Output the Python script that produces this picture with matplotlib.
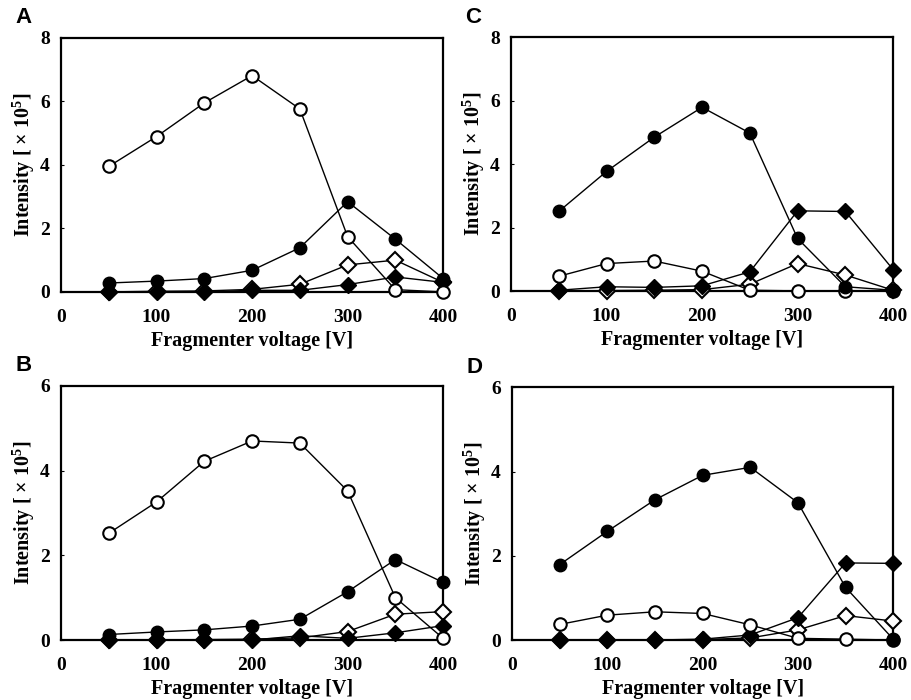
import matplotlib
matplotlib.use("Agg")
import matplotlib.pyplot as plt

plt.rcParams["font.family"] = ["Liberation Serif", "DejaVu Serif"]
plt.rcParams["font.weight"] = "bold"
plt.rcParams["mathtext.fontset"] = "custom"
plt.rcParams["mathtext.rm"] = "Liberation Serif:bold"
plt.rcParams["mathtext.bf"] = "Liberation Serif:bold"
plt.rcParams["mathtext.it"] = "Liberation Serif:bold"

voltage = [50, 100, 150, 200, 250, 300, 350, 400]

# Panel A
a_open_circle = [3.95, 4.89, 5.95, 6.81, 5.76, 1.74, 0.07, 0.0]
a_filled_circle = [0.28, 0.34, 0.42, 0.68, 1.39, 2.84, 1.66, 0.42]
a_open_diamond = [0.0, 0.02, 0.03, 0.08, 0.24, 0.85, 1.0, 0.30]
a_filled_diamond = [0.0, 0.0, 0.0, 0.05, 0.05, 0.23, 0.47, 0.30]

# Panel B
b_open_circle = [2.52, 3.26, 4.22, 4.70, 4.65, 3.52, 1.0, 0.04]
b_filled_circle = [0.13, 0.19, 0.24, 0.33, 0.49, 1.14, 1.90, 1.36]
b_open_diamond = [0.0, 0.0, 0.01, 0.02, 0.05, 0.20, 0.61, 0.67]
b_filled_diamond = [0.0, 0.0, 0.0, 0.0, 0.10, 0.04, 0.17, 0.34]

# Panel C
c_open_circle = [0.47, 0.87, 0.95, 0.63, 0.03, 0.01, 0.0, 0.0]
c_filled_circle = [2.51, 3.77, 4.85, 5.79, 4.98, 1.66, 0.14, 0.03]
c_open_diamond = [0.0, 0.02, 0.03, 0.05, 0.22, 0.87, 0.51, 0.03]
c_filled_diamond = [0.03, 0.14, 0.12, 0.17, 0.61, 2.53, 2.51, 0.68]

# Panel D
d_open_circle = [0.37, 0.59, 0.67, 0.63, 0.36, 0.04, 0.02, 0.0]
d_filled_circle = [1.79, 2.58, 3.33, 3.91, 4.10, 3.26, 1.25, 0.02]
d_open_diamond = [0.0, 0.0, 0.0, 0.01, 0.05, 0.24, 0.58, 0.45]
d_filled_diamond = [0.0, 0.0, 0.0, 0.02, 0.12, 0.53, 1.83, 1.82]

x_ticks = [0, 100, 200, 300, 400]

panels = [
    ("A", [0.0669, 0.583, 0.419, 0.363], 8, [0, 2, 4, 6, 8],
     a_open_circle, a_filled_circle, a_open_diamond, a_filled_diamond),
    ("C", [0.5603, 0.584, 0.419, 0.363], 8, [0, 2, 4, 6, 8],
     c_open_circle, c_filled_circle, c_open_diamond, c_filled_diamond),
    ("B", [0.0669, 0.0857, 0.419, 0.363], 6, [0, 2, 4, 6],
     b_open_circle, b_filled_circle, b_open_diamond, b_filled_diamond),
    ("D", [0.5614, 0.0857, 0.418, 0.361], 6, [0, 2, 4, 6],
     d_open_circle, d_filled_circle, d_open_diamond, d_filled_diamond),
]

fig = plt.figure(figsize=(9.12, 7.0), dpi=100)

line_kw = dict(color="black", lw=1.0, clip_on=False)
for letter, rect, ymax, yticks, oc, fc, od, fd in panels:
    ax = fig.add_axes(rect)
    ax.plot(voltage, od, marker="D", ms=8, mfc="white", mec="black", mew=1.5, zorder=3, **line_kw)
    ax.plot(voltage, fd, marker="D", ms=8, mfc="black", mec="black", zorder=4, **line_kw)
    ax.plot(voltage, oc, marker="o", ms=9, mfc="white", mec="black", mew=1.5, zorder=5, **line_kw)
    ax.plot(voltage, fc, marker="o", ms=9, mfc="black", mec="black", zorder=6, **line_kw)
    ax.set_xlim(0, 400)
    ax.set_ylim(0, ymax)
    ax.set_xticks(x_ticks)
    ax.set_yticks(yticks)
    ax.tick_params(direction="in", length=2.5, width=0.8, labelsize=14)
    ax.tick_params(axis="x", pad=12)
    ax.tick_params(axis="y", pad=8)
    for lab in ax.get_xticklabels() + ax.get_yticklabels():
        lab.set_fontweight("bold")
    for sp in ax.spines.values():
        sp.set_linewidth(1.6)
    ax.set_xlabel("Fragmenter voltage [V]", fontsize=14.5, fontweight="bold", labelpad=4)
    ax.set_ylabel(r"Intensity [ $\times$ 10$^{5}$]", fontsize=14.5, fontweight="bold", labelpad=2)
    fx = rect[0] - 0.041
    fy = rect[1] + rect[3] + 0.0285
    fig.text(fx, fy, letter, fontsize=16, fontweight="bold",
             family="Liberation Sans", ha="center", va="center")

fig.savefig("out.png", dpi=100)
